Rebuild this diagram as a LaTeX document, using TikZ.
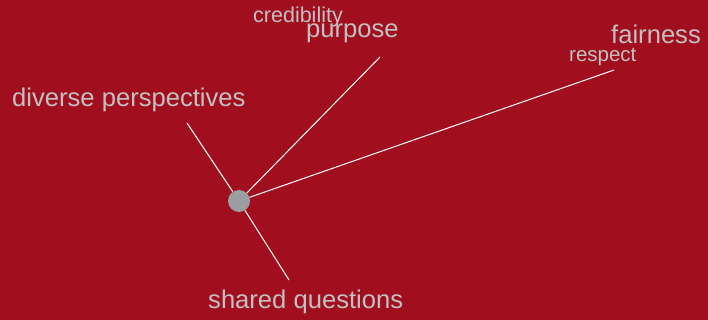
\documentclass[tikz,border=0pt]{standalone}
\usepackage{fontspec}
\setmainfont{Liberation Sans}
\definecolor{bgred}{HTML}{A10F1F}
\definecolor{lbl}{HTML}{C2C0C2}
\definecolor{hubgrey}{HTML}{9B9EA0}
\begin{document}
\begin{tikzpicture}[x=1pt,y=-1pt,
  big/.style={text=lbl,inner sep=0pt,anchor=base west,font=\fontsize{25.6}{30}\selectfont},
  small/.style={text=lbl,inner sep=0pt,anchor=base west,font=\fontsize{21.5}{25}\selectfont},
  spoke/.style={draw=white,line width=1pt},
  hubdot/.style={circle,fill=hubgrey,minimum size=22pt,inner sep=0pt}]
\fill[bgred] (0,0) rectangle (708,320);
\useasboundingbox (0,0) rectangle (708,320);
\node[big] (dp) at (12,107) {diverse perspectives};
\node[big] (sq) at (208,308) {shared questions};
\node[big] (pu) at (306,38) {purpose};
\node[big] (fa) at (611,44) {fairness};
\node[small] (cr) at (253,23) {credibility};
\node[small,font=\fontsize{20.5}{24}\selectfont] (re) at (569,62) {respect};
\coordinate (e1) at (187,123);
\coordinate (e2) at (380,57);
\coordinate (e3) at (614,70);
\coordinate (e4) at (289,280);
\node[hubdot] (hub) at (239,201) {};
\draw[spoke] (hub) -- (e1);
\draw[spoke] (hub) -- (e2);
\draw[spoke] (hub) -- (e3);
\draw[spoke] (hub) -- (e4);
\end{tikzpicture}
\end{document}
